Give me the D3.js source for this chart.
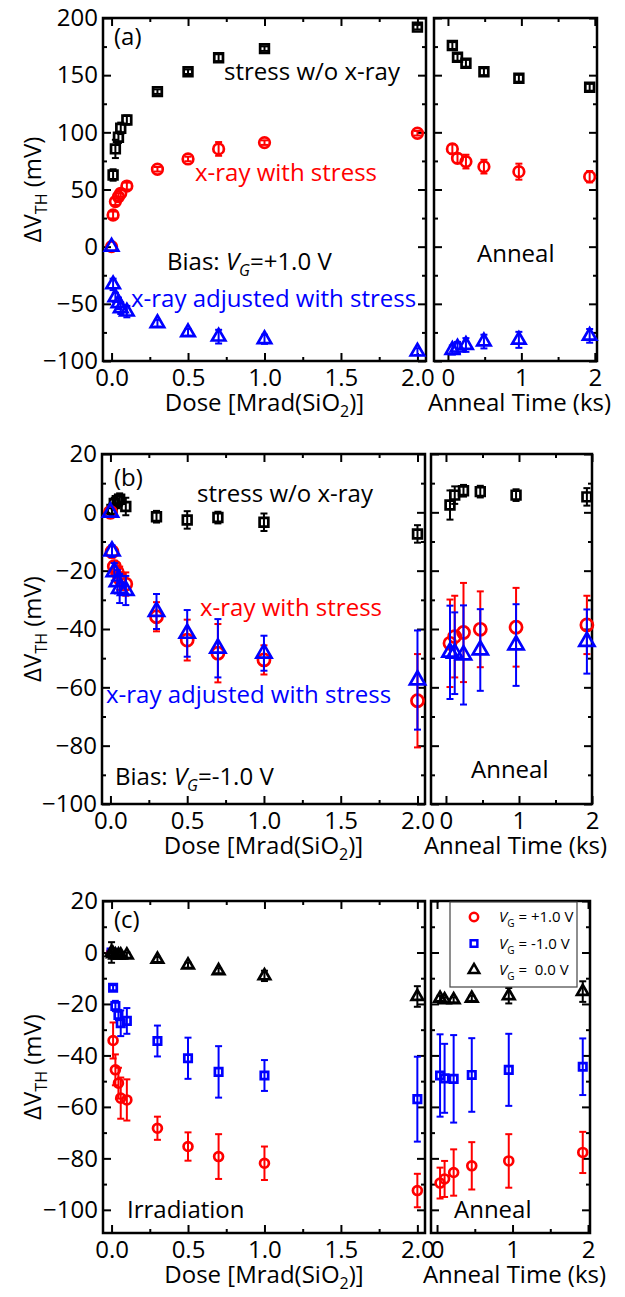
<!DOCTYPE html>
<html>
<head>
<meta charset="utf-8">
<script src="https://cdn.jsdelivr.net/npm/d3@7"></script>
<style>
  body { margin: 0; background: #fff; }
  svg { display: block; font-family: "Open Sans", sans-serif; }
</style>
</head>
<body>
<svg id="chart" width="625" height="1297"></svg>
<script>
// ---- data ----
const dose = [0, 0.01, 0.025, 0.045, 0.06, 0.1, 0.3, 0.5, 0.7, 1.0, 2.0];

// (a) bias VG = +1.0 V
const aStress    = [null, 62.7, 85.5, 95.7, 103.5, 110.8, 135.6, 153, 165.3, 173.2, 192];
const aStressErr = [0, 5, 8, 5, 5, 4, 2, 2, 3, 2, 2];
const aXray      = [0, 27.7, 39.4, 43.7, 46.7, 53, 67.7, 76.7, 85.5, 91, 99.2];
const aXrayErr   = [0, 3, 3, 3, 3, 3, 2, 2, 6, 2, 2];
const aAdj       = [0, -33, -44.3, -49.5, -53.9, -56.8, -67, -74.9, -78.7, -81, -91.8];
const aAdjErr    = [0, 5, 4, 5, 5, 5, 3, 3, 6, 4, 3];
const aTime      = [0.06, 0.13, 0.245, 0.49, 0.966, 1.93];
const aStressAn  = [175.9, 165.6, 160.4, 153, 147.3, 139.4];
const aStressAnErr = [3, 3, 3, 3, 3, 3];
const aXrayAn    = [85.5, 77.3, 74.4, 70, 65.6, 61.2];
const aXrayAnErr = [4, 4, 6, 6, 7, 5];
const aAdjAn     = [-90.4, -88.3, -86, -83, -81.5, -78];
const aAdjAnErr  = [4, 5, 6, 6, 7, 6];

// (b) bias VG = -1.0 V
const bStress    = [null, 1, 3, 4, 4.5, 2, -1.5, -2.6, -1.8, -3.4, -7.4];
const bStressErr = [0, 2, 2, 2, 2, 3, 2, 3, 2, 3, 3];
const bXray      = [0, -13.5, -18.6, -20.5, -22.6, -24.6, -35.8, -43.8, -48.3, -50.6, -64.6];
const bXrayErr   = [0, 2, 2, 3, 4, 4, 5, 7, 10, 5, 16];
const bAdj       = [0, -13.3, -20.4, -23.8, -26.1, -26.8, -34, -41.5, -46.6, -48.3, -57.5];
const bAdjErr    = [0, 2, 3, 4, 5, 5, 6, 8, 10, 6, 17];
const bTime      = [0.055, 0.12, 0.24, 0.47, 0.96, 1.93];
const bStressAn  = [2.5, 5.9, 7.4, 7.1, 5.9, 5.3];
const bStressAnErr = [5, 3, 2, 2, 2, 3];
const bXrayAn    = [-44.9, -42.6, -41.2, -40.1, -39.4, -38.6];
const bXrayAnErr = [15, 14, 17, 13, 13.5, 10];
const bAdjAn     = [-48, -48.3, -48.9, -47.2, -45.5, -44.3];
const bAdjAnErr  = [16, 14, 17, 14, 14, 11];

// (c) irradiation at three biases
const cPos     = [0, -34.2, -45.6, -50.8, -56.6, -57.3, -68.3, -75.4, -79.3, -81.9, -92.5];
const cPosErr  = [0, 7, 6, 6, 8, 8, 4.5, 5.5, 8.7, 6.5, 6.5];
const cNeg     = [0, -13.7, -20.8, -24.3, -27.5, -26.6, -34.4, -41.1, -46.4, -47.8, -57];
const cNegErr  = [0, 1, 2, 2, 5, 5, 6, 8, 10, 6, 16.5];
const cZero    = [0, -0.5, -1, -1, -1, -1, -2.7, -4.9, -7.1, -9.1, -17.1];
const cZeroErr = [4, 1, 1, 1, 1, 1, 1, 1, 1, 2, 4];
const cTime    = [0.04, 0.1, 0.22, 0.46, 0.95, 1.93];
const cPosAn     = [-89.6, -88, -85.5, -82.9, -81, -77.7];
const cPosAnErr  = [6, 7, 9, 9.2, 10.4, 8];
const cNegAn     = [-47.8, -48.9, -49.1, -47.6, -45.6, -44.4];
const cNegAnErr  = [16, 13.4, 17, 14.3, 14, 11];
const cZeroAn    = [-17.8, -18.4, -18.4, -17.8, -16.8, -15.2];
const cZeroAnErr = [1, 1, 1, 1, 3, 4];

const doseTicks = [0, 0.5, 1, 1.5, 2];
const doseMinor = [0.25, 0.75, 1.25, 1.75];
const timeTicks = [0, 1, 2];
const timeMinor = [0.5, 1.5];

const RED = '#ff0000', BLUE = '#0000ff', BLACK = '#000';
const svg = d3.select('#chart');

function addAxis(g, axis, tr) {
  const a = g.append('g').attr('transform', tr).call(axis);
  a.select('.domain').remove();
  a.attr('font-size', 24).attr('font-family', '"Open Sans", sans-serif');
  a.selectAll('line').attr('stroke-width', 2);
  a.selectAll('text').attr('fill', '#000');
  return a;
}

function box(g, x, y, yMaj, yMin, xMaj, xMin, xFmt, showY) {
  const [l, r] = x.range(), [b, t] = y.range();
  const none = () => '';
  addAxis(g, d3.axisBottom(x).tickValues(xMaj).tickSize(-8).tickSizeOuter(0).tickPadding(8).tickFormat(xFmt), `translate(0,${b})`);
  addAxis(g, d3.axisBottom(x).tickValues(xMin).tickSize(-4).tickSizeOuter(0).tickFormat(none), `translate(0,${b})`);
  addAxis(g, d3.axisTop(x).tickValues(xMaj).tickSize(-8).tickSizeOuter(0).tickFormat(none), `translate(0,${t})`);
  addAxis(g, d3.axisTop(x).tickValues(xMin).tickSize(-4).tickSizeOuter(0).tickFormat(none), `translate(0,${t})`);
  addAxis(g, d3.axisLeft(y).tickValues(yMaj).tickSize(-8).tickSizeOuter(0).tickPadding(5).tickFormat(showY ? d3.format('d') : none), `translate(${l},0)`);
  addAxis(g, d3.axisLeft(y).tickValues(yMin).tickSize(-4).tickSizeOuter(0).tickFormat(none), `translate(${l},0)`);
  addAxis(g, d3.axisRight(y).tickValues(yMaj).tickSize(-8).tickSizeOuter(0).tickFormat(none), `translate(${r},0)`);
  addAxis(g, d3.axisRight(y).tickValues(yMin).tickSize(-4).tickSizeOuter(0).tickFormat(none), `translate(${r},0)`);
  g.append('rect').attr('x', l).attr('y', t).attr('width', r - l).attr('height', b - t)
    .attr('fill', 'none').attr('stroke', '#000').attr('stroke-width', 2.5);
}

function series(g, xs, sx, sy, vals, errs, type, size, color) {
  const pts = xs.map((d, i) => ({ d, v: vals[i], e: errs[i] })).filter(p => p.v != null);
  const eb = g.append('g').attr('stroke', color).attr('stroke-width', 2);
  pts.filter(p => p.e > 0).forEach(p => {
    const cx = sx(p.d), y1 = sy(p.v + p.e), y2 = sy(p.v - p.e);
    eb.append('line').attr('x1', cx).attr('x2', cx).attr('y1', y1).attr('y2', y2);
    eb.append('line').attr('x1', cx - 3.5).attr('x2', cx + 3.5).attr('y1', y1).attr('y2', y1);
    eb.append('line').attr('x1', cx - 3.5).attr('x2', cx + 3.5).attr('y1', y2).attr('y2', y2);
  });
  g.append('g').selectAll('path').data(pts).join('path')
    .attr('d', d3.symbol().type(type).size(size))
    .attr('transform', p => `translate(${sx(p.d)},${sy(p.v)})`)
    .attr('fill', 'none').attr('stroke', color).attr('stroke-width', 2.7);
}

function label(g, x, y, parts, color, anchor) {
  const t = g.append('text').attr('x', x).attr('y', y).attr('font-size', 24)
    .attr('fill', color || '#000').attr('text-anchor', anchor || 'start');
  parts.forEach(p => {
    const s = t.append('tspan').text(p.t);
    if (p.sub) s.attr('font-size', 16).attr('dy', 6);
    if (p.up) s.attr('dy', -6);
    if (p.it) s.attr('font-style', 'italic');
  });
  return t;
}

function titles(g, p) {
  label(g, (p.left + p.right) / 2, p.bottom + 50,
    [{ t: 'Dose [Mrad(SiO' }, { t: '2', sub: true }, { t: ')]', up: true }], '#000', 'middle');
  label(g, (p.rLeft + p.rRight) / 2 + 4, p.bottom + 50, [{ t: 'Anneal Time (ks)' }], '#000', 'middle');
  const cy = (p.top + p.bottom) / 2;
  const yt = g.append('text').attr('transform', `translate(41,${cy}) rotate(-90)`)
    .attr('font-size', 24).attr('text-anchor', 'middle');
  yt.append('tspan').text('ΔV');
  yt.append('tspan').text('TH').attr('font-size', 16).attr('dy', 6);
  yt.append('tspan').text(' (mV)').attr('dy', -6);
}

function panel(p) {
  const g = svg.append('g');
  const x = d3.scaleLinear().domain(p.xDom).range([p.left, p.right]);
  const t = d3.scaleLinear().domain(p.tDom).range([p.rLeft, p.rRight]);
  const y = d3.scaleLinear().domain(p.yDom).range([p.bottom, p.top]);
  box(g, x, y, p.yMaj, p.yMin, doseTicks, doseMinor, d3.format('.1f'), true);
  box(g, t, y, p.yMaj, p.yMin, timeTicks, timeMinor, d3.format('d'), false);
  titles(g, p);
  return { g, x, t, y };
}

const sq = d3.symbolSquare, ci = d3.symbolCircle, tri = d3.symbolTriangle;

// ---- panel (a) ----
const pa = { top: 18, bottom: 361, left: 103, right: 426, rLeft: 434, rRight: 597,
  xDom: [-0.056, 2.056], tDom: [-0.19, 2.03], yDom: [-100, 200],
  yMaj: d3.range(-100, 201, 50), yMin: d3.range(-75, 200, 50) };
const A = panel(pa);
series(A.g, dose, A.x, A.y, aStress, aStressErr, sq, 76, BLACK);
series(A.g, dose, A.x, A.y, aXray, aXrayErr, ci, 88, RED);
series(A.g, dose, A.x, A.y, aAdj, aAdjErr, tri, 78, BLUE);
series(A.g, aTime, A.t, A.y, aStressAn, aStressAnErr, sq, 76, BLACK);
series(A.g, aTime, A.t, A.y, aXrayAn, aXrayAnErr, ci, 88, RED);
series(A.g, aTime, A.t, A.y, aAdjAn, aAdjAnErr, tri, 78, BLUE);
label(A.g, 114, 45, [{ t: '(a)' }]);
label(A.g, 224, 80, [{ t: 'stress w/o x-ray' }]);
label(A.g, 195, 181, [{ t: 'x-ray with stress' }], RED);
label(A.g, 167, 270, [{ t: 'Bias: ' }, { t: 'V', it: true }, { t: 'G', it: true, sub: true }, { t: '=+1.0 V', up: true }]);
label(A.g, 131, 307, [{ t: 'x-ray adjusted with stress' }], BLUE);
label(A.g, 477, 262, [{ t: 'Anneal' }]);

// ---- panel (b) ----
const pb = { top: 454, bottom: 804, left: 102, right: 425, rLeft: 431, rRight: 592,
  xDom: [-0.055, 2.049], tDom: [-0.205, 2.0], yDom: [-100, 20],
  yMaj: d3.range(-100, 21, 20), yMin: d3.range(-90, 20, 20) };
const B = panel(pb);
series(B.g, dose, B.x, B.y, bStress, bStressErr, sq, 76, BLACK);
series(B.g, dose, B.x, B.y, bXray, bXrayErr, ci, 115, RED);
series(B.g, dose, B.x, B.y, bAdj, bAdjErr, tri, 100, BLUE);
series(B.g, bTime, B.t, B.y, bStressAn, bStressAnErr, sq, 76, BLACK);
series(B.g, bTime, B.t, B.y, bXrayAn, bXrayAnErr, ci, 115, RED);
series(B.g, bTime, B.t, B.y, bAdjAn, bAdjAnErr, tri, 100, BLUE);
label(B.g, 114, 486, [{ t: '(b)' }]);
label(B.g, 197, 502, [{ t: 'stress w/o x-ray' }]);
label(B.g, 200, 616, [{ t: 'x-ray with stress' }], RED);
label(B.g, 106, 703, [{ t: 'x-ray adjusted with stress' }], BLUE);
label(B.g, 115, 785, [{ t: 'Bias: ' }, { t: 'V', it: true }, { t: 'G', it: true, sub: true }, { t: '=-1.0 V', up: true }]);
label(B.g, 471, 778, [{ t: 'Anneal' }]);

// ---- panel (c) ----
const pc = { top: 901, bottom: 1233, left: 103, right: 425, rLeft: 431, rRight: 590,
  xDom: [-0.056, 2.05], tDom: [-0.08, 2.026], yDom: [-109, 20],
  yMaj: d3.range(-100, 21, 20), yMin: d3.range(-90, 20, 20) };
const C = panel(pc);
series(C.g, dose, C.x, C.y, cPos, cPosErr, ci, 62, RED);
series(C.g, dose, C.x, C.y, cNeg, cNegErr, sq, 55, BLUE);
series(C.g, dose, C.x, C.y, cZero, cZeroErr, tri, 58, BLACK);
series(C.g, cTime, C.t, C.y, cPosAn, cPosAnErr, ci, 62, RED);
series(C.g, cTime, C.t, C.y, cNegAn, cNegAnErr, sq, 55, BLUE);
series(C.g, cTime, C.t, C.y, cZeroAn, cZeroAnErr, tri, 58, BLACK);
label(C.g, 114, 928, [{ t: '(c)' }]);
label(C.g, 127, 1218, [{ t: 'Irradiation' }]);
label(C.g, 454, 1218, [{ t: 'Anneal' }]);

// legend
const legend = [
  { type: ci, size: 55, color: RED, text: '= +1.0 V' },
  { type: sq, size: 45, color: BLUE, text: '= -1.0 V' },
  { type: tri, size: 48, color: BLACK, text: '=  0.0 V' }
];
const lg = C.g.append('g');
lg.append('rect').attr('x', 450).attr('y', 902).attr('width', 127).attr('height', 85)
  .attr('fill', '#fff').attr('stroke', '#444').attr('stroke-width', 1.2);
legend.forEach((d, i) => {
  const yy = 917 + i * 26.5;
  lg.append('path').attr('d', d3.symbol().type(d.type).size(d.size)())
    .attr('transform', `translate(474,${yy})`)
    .attr('fill', 'none').attr('stroke', d.color).attr('stroke-width', 2.5);
  const tx = lg.append('text').attr('x', 499).attr('y', yy + 5).attr('font-size', 15)
    .attr('xml:space', 'preserve').style('white-space', 'pre');
  tx.append('tspan').text('V').attr('font-style', 'italic');
  tx.append('tspan').text('G').attr('font-size', 10).attr('dy', 5);
  tx.append('tspan').text(' ' + d.text).attr('dy', -5);
});
</script>
</body>
</html>
